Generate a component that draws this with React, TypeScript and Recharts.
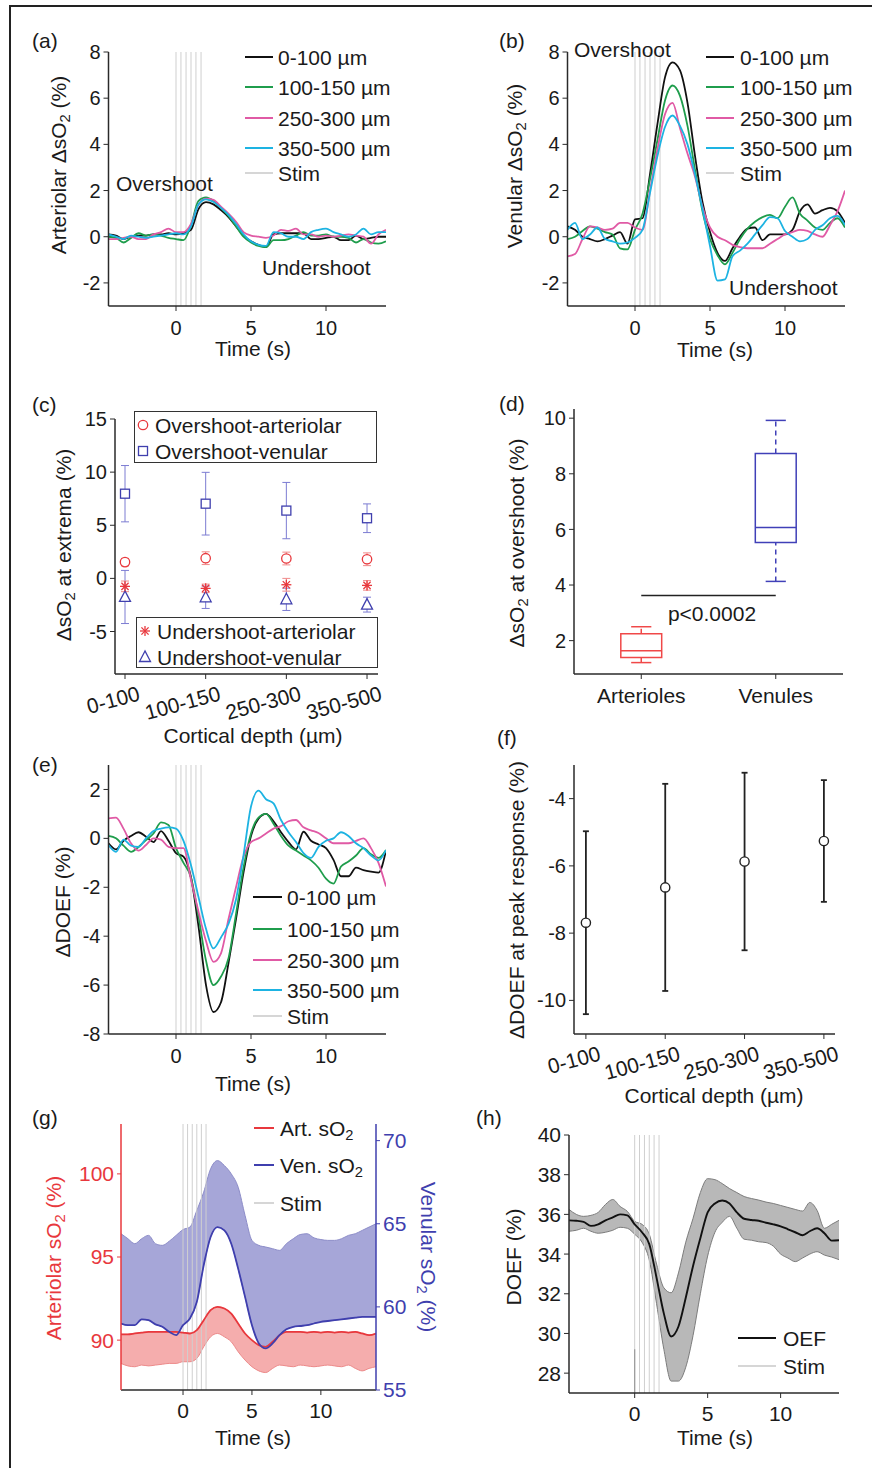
import React from 'react';
import {
  ComposedChart, Line, Area, XAxis, YAxis, ReferenceLine, ReferenceArea, Scatter, ErrorBar,
} from 'recharts';

// ---------------- DATA ----------------
const TIME = [-4.5, -4, -3.5, -3, -2.5, -2, -1.5, -1, -0.5, 0, 0.5, 1, 1.5, 2, 2.5, 3, 3.5, 4, 4.5, 5, 5.5, 6, 6.5, 7, 7.5, 8, 8.5, 9, 9.5, 10, 10.5, 11, 11.5, 12, 12.5, 13, 13.5, 14];
const STIM = [0, 0.33, 0.67, 1, 1.33, 1.67];
const TIME_TICKS = [0, 5, 10];
const DEPTH_NAMES = ['0-100 µm', '100-150 µm', '250-300 µm', '350-500 µm'];
const DEPTH_TICKS = ['0-100', '100-150', '250-300', '350-500'];
const DEPTH_POS = [1, 2, 3, 4];

// (a) arteriolar ΔsO2
const A_0_100 = [0.1, 0.05, -0.1, 0, 0.05, 0.05, 0.1, 0.1, 0.15, 0.1, 0.15, 0.3, 1.2, 1.5, 1.4, 1.15, 0.85, 0.45, 0.05, -0.2, -0.35, -0.45, 0.1, 0.15, 0.15, 0.15, 0.15, -0.1, -0.1, -0.05, 0, -0.15, -0.15, 0.05, -0.1, -0.05, 0, 0];
const A_100_150 = [0, -0.05, -0.25, -0.05, 0.15, 0.05, 0.1, 0.05, -0.05, -0.1, -0.15, 0.5, 1.55, 1.7, 1.55, 1.25, 0.9, 0.45, 0, -0.25, -0.4, -0.45, -0.15, -0.15, -0.1, 0.05, 0.2, 0.05, 0.05, 0.1, 0, 0, -0.05, -0.25, -0.1, -0.25, -0.3, -0.2];
const A_250_300 = [-0.1, -0.1, -0.05, 0, -0.1, -0.1, 0.1, 0.2, 0.35, 0.2, 0.2, 0.55, 1.4, 1.65, 1.6, 1.3, 1.0, 0.65, 0.2, 0.05, 0, -0.05, 0.05, 0.3, 0.25, 0.35, 0.1, 0.1, 0, 0.05, 0, 0.05, 0.1, 0.05, 0, -0.3, 0.1, 0.3];
const A_350_500 = [0.1, 0, -0.1, 0.05, 0, -0.05, 0, 0.05, 0.1, 0.15, 0.1, 0.45, 1.4, 1.62, 1.5, 1.25, 0.95, 0.55, 0.1, -0.2, -0.35, -0.4, 0.2, 0.15, 0, 0, -0.1, 0.2, 0.3, 0.35, 0.2, 0.1, 0, 0.1, 0.35, 0.1, 0.2, 0.2];

// (b) venular ΔsO2
const B_0_100 = [0.45, 0.3, 0, -0.1, -0.2, -0.1, 0.05, 0.2, -0.3, 0.75, 0.8, 2.7, 4.9, 6.9, 7.55, 7.2, 5.8, 3.5, 1.5, 0.2, -0.7, -1.05, -0.5, 0, 0.35, 0.4, -0.15, 0.1, 0.1, 0.1, 0.3, 1.1, 1.4, 1.0, 1.15, 1.25, 1.1, 0.6];
const B_100_150 = [-0.1, 0, 0.25, 0.45, 0.35, 0.2, 0.1, -0.5, -0.55, 0.3, 1.0, 2.5, 4.2, 5.9, 6.55, 6.1, 4.8, 2.9, 1.1, -0.1, -0.8, -1.2, -0.7, -0.1, 0.35, 0.65, 0.85, 0.95, 0.8, 1.3, 1.7, 1.0, 0.7, 0.4, 0.3, 0.6, 0.8, 0.4];
const B_250_300 = [-0.85, -0.75, -0.1, 0.45, 0.4, 0.3, 0.35, 0.6, 0.6, 0.4, 0.3, 2.0, 3.8, 5.3, 5.8, 4.7, 3.6, 2.6, 1.3, 0.4, 0, -0.15, -0.35, -0.45, -0.5, -0.5, -0.5, -0.3, -0.1, 0.1, 0.2, 0.3, 0.25, 0.1, 0, 0.5, 1.1, 2.0];
const B_350_500 = [0.3, 0.6, -0.1, 0.1, 0.4, -0.1, -0.2, -0.3, -0.25, -0.05, 0.3, 1.9, 3.5, 4.75, 5.25, 4.8, 4.0, 2.7, 1.2, -0.4, -1.9, -1.85, -0.85, -0.6, -0.3, 0.1, 0.5, 0.85, 0.8, 0.25, 0, -0.2, -0.1, 0.3, 0.5, 0.8, 0.9, 0.5];

// (c) ΔsO2 at extrema
const C_OVER_ART = [1.53, 1.9, 1.87, 1.8];
const C_OVER_ART_ERR = [0.35, 0.6, 0.6, 0.6];
const C_OVER_VEN = [7.97, 7.03, 6.38, 5.66];
const C_OVER_VEN_ERR = [2.65, 2.95, 2.65, 1.35];
const C_UNDER_ART = [-0.75, -0.94, -0.6, -0.66];
const C_UNDER_ART_ERR = [0.5, 0.4, 0.6, 0.45];
const C_UNDER_VEN = [-1.75, -1.78, -1.97, -2.47];
const C_UNDER_VEN_ERR = [2.5, 1.05, 1.05, 0.7];

// (d) box plot
const BOX_LABELS = ['Arterioles', 'Venules'];
const BOX_POS = [1, 2];
const BOX_MIN = [1.21, 4.13];
const BOX_Q1 = [1.39, 5.53];
const BOX_MED = [1.64, 6.07];
const BOX_Q3 = [2.25, 8.73];
const BOX_MAX = [2.5, 9.92];
const SIG_Y = 3.62;

// (e) ΔDOEF
const E_0_100 = [-0.2, -0.45, -0.1, 0.1, 0.25, 0.07, -0.15, 0.3, -0.1, -0.6, -0.75, -1.6, -3.6, -6.0, -7.1, -6.7, -5.1, -3.3, -1.4, 0.1, 0.8, 1.0, 0.7, 0.25, -0.15, -0.45, 0.27, -0.1, -0.25, -0.4, -0.88, -1.55, -1.55, -1.2, -1.3, -1.36, -1.4, -0.5];
const E_100_150 = [0.1, 0, -0.3, -0.55, -0.35, -0.07, 0.2, 0.65, 0.55, -0.4, -1.0, -1.6, -3.2, -5.0, -6.0, -5.65, -4.9, -3.1, -1.2, 0.2, 0.85, 1.0, 0.6, 0.1, -0.3, -0.5, -0.7, -0.9, -1.2, -1.65, -1.85, -1.15, -0.95, -0.7, -0.4, -0.65, -0.8, -0.48];
const E_250_300 = [0.82, 0.85, 0.4, -0.2, -0.5, -0.27, 0, -0.05, -0.35, -0.4, -0.4, -1.7, -3.0, -4.2, -5.05, -4.7, -3.3, -2.0, -0.75, -0.15, 0, 0.2, 0.4, 0.5, 0.7, 0.75, 0.45, 0.33, 0.22, 0, -0.2, -0.2, -0.2, -0.1, 0, -0.4, -1.0, -1.97];
const E_350_500 = [-0.27, -0.55, -0.05, -0.3, -0.35, 0, 0.3, 0.4, 0.45, 0.4, -0.1, -1.1, -2.4, -3.7, -4.5, -4.05, -3.5, -2.5, -0.7, 1.3, 1.95, 1.6, 1.43, 0.75, 0.25, -0.15, -0.6, -0.8, -0.35, -0.1, 0, 0.25, 0.1, -0.2, -0.4, -0.7, -0.9, -0.48];

// (f) ΔDOEF at peak response
const F_MEAN = [-7.69, -6.64, -5.87, -5.26];
const F_ERR = [2.72, 3.08, 2.64, 1.81];

// (g) absolute sO2
const G_ART = [90.35, 90.35, 90.4, 90.45, 90.5, 90.5, 90.5, 90.5, 90.5, 90.45, 90.4, 90.6, 91.2, 91.8, 92.0, 91.9, 91.6, 91.0, 90.4, 90.0, 89.7, 89.6, 89.9, 90.3, 90.5, 90.5, 90.5, 90.45, 90.5, 90.45, 90.5, 90.45, 90.5, 90.45, 90.5, 90.4, 90.3, 90.4];
const G_ART_LO = [88.6, 88.45, 88.4, 88.5, 88.45, 88.5, 88.55, 88.6, 88.6, 88.7, 88.7, 88.9, 89.6, 90.2, 90.4, 90.2, 89.9, 89.3, 88.8, 88.4, 88.15, 88.05, 88.3, 88.5, 88.45, 88.4, 88.5, 88.45, 88.4, 88.45, 88.5, 88.45, 88.4, 88.5, 88.3, 88.15, 88.3, 88.4];
const G_VEN = [59.0, 58.9, 58.9, 59.25, 59.2, 58.95, 58.8, 58.5, 58.3, 58.9, 59.3, 60.3, 62.5, 64.2, 64.8, 64.6, 63.8, 62.3, 60.6, 58.9, 57.8, 57.5, 57.8, 58.3, 58.65, 58.8, 58.85, 58.9, 59.0, 59.1, 59.15, 59.2, 59.25, 59.3, 59.35, 59.4, 59.4, 59.4];
const G_VEN_HI = [64.4, 64.1, 63.8, 64.1, 64.3, 63.8, 63.7, 63.95, 64.3, 64.65, 64.8, 65.8, 66.9, 68.3, 68.8, 68.5, 68.0, 67.2, 65.5, 64.0, 63.7, 63.6, 63.5, 63.4, 63.8, 64.1, 64.35, 64.4, 64.15, 64.05, 64.0, 64.0, 64.1, 64.3, 64.4, 64.6, 64.8, 65.0];

// (h) DOEF
const H_OEF = [35.7, 35.68, 35.62, 35.42, 35.5, 35.7, 35.85, 36.0, 35.95, 35.5, 35.1, 34.5, 32.8, 31.0, 29.85, 30.35, 31.8, 33.4, 34.8, 36.1, 36.55, 36.7, 36.55, 36.1, 35.78, 35.72, 35.68, 35.58, 35.5, 35.4, 35.25, 35.1, 34.95, 35.15, 35.3, 35.05, 34.68, 34.7];
const H_HI = [36.25, 36.0, 35.9, 35.95, 36.1, 36.5, 36.75, 36.4, 36.15, 35.65, 35.5, 35.0, 33.5, 32.3, 32.05, 33.05, 34.6, 35.8, 37.1, 37.8, 37.75, 37.55, 37.3, 37.1, 36.9, 36.8, 36.72, 36.62, 36.55, 36.45, 36.35, 36.25, 36.17, 36.6, 36.2, 35.3, 35.5, 35.7];
const H_LO = [35.15, 35.2, 35.3, 35.15, 35.05, 35.1, 35.2, 35.35, 35.3, 35.0, 34.6, 33.7, 31.5, 29.2, 27.6, 27.6, 28.3, 29.9, 32.0, 33.9, 35.1, 35.6, 35.9, 35.3, 34.75, 34.7, 34.62, 34.58, 34.4, 34.0, 33.8, 33.62, 33.8, 34.0, 34.12, 33.95, 33.85, 33.72];

// ---------------- STYLE ----------------
const FONT = '"Liberation Sans", Arial, Helvetica, sans-serif';
const INK = '#1a1a1a';
const SERIES_COLORS = ['#111111', '#1f9d4c', '#e05aa5', '#1db3e2'];
const STIM_COLOR = '#cfcfcf';
const RED = '#e8383d';
const BLUE = '#3f3fae';
const AX = { stroke: '#2a2a2a', strokeWidth: 1.5 };
const TL = { stroke: '#2a2a2a', strokeWidth: 1 };
const TICK = { fill: INK, fontSize: 20 };
const LW = 1.8;

type Geom = { wrap: React.CSSProperties; width: number; height: number; margin: any; yW: number; xH: number; rW: number };
function place(L: number, T: number, W: number, H: number, x0: number, y0: number, x1: number, y1: number, right = false): Geom {
  return {
    wrap: { position: 'absolute', left: L, top: T },
    width: W, height: H,
    margin: { top: y0 - T, right: right ? 0 : L + W - x1, bottom: 0, left: 0 },
    yW: x0 - L, xH: T + H - y1, rW: right ? L + W - x1 : 0,
  };
}

function rowsOf(series: number[][]) {
  return TIME.map((t, i) => {
    const r: any = { t };
    series.forEach((s, k) => { r['s' + k] = s[i]; });
    return r;
  });
}

// ---------------- TEXT OVERLAYS ----------------
type TP = { x: number; y: number; a?: 'start' | 'middle' | 'end'; s?: number; c?: string; r?: number; children: React.ReactNode };
function Tx({ x, y, a = 'start', s = 21, c = INK, r = 0, children }: TP) {
  const tx = a === 'start' ? '0%' : a === 'middle' ? '-50%' : '-100%';
  return (
    <div style={{ position: 'absolute', left: x, top: y, transform: `translate(${tx}, -50%)` + (r ? ` rotate(${r}deg)` : ''), fontSize: s, color: c, lineHeight: 1, whiteSpace: 'nowrap' }}>
      {children}
    </div>
  );
}
const Sub = ({ children }: { children: React.ReactNode }) => (
  <span style={{ fontSize: '0.7em', position: 'relative', top: '0.3em' }}>{children}</span>
);

type LegItem = { label: React.ReactNode; color: string; thin?: boolean };
function LineLegend({ x, w, tx, ys, items }: { x: number; w: number; tx: number; ys: number[]; items: LegItem[] }) {
  return (
    <>
      {items.map((it, i) => (
        <React.Fragment key={i}>
          <div style={{ position: 'absolute', left: x, top: ys[i] - (it.thin ? 0.75 : 1), width: w, height: it.thin ? 1.5 : 2, background: it.color }} />
          <Tx x={tx} y={ys[i]}>{it.label}</Tx>
        </React.Fragment>
      ))}
    </>
  );
}

// ---------------- MARKERS ----------------
const CircleRed = (p: any) => <circle cx={p.cx} cy={p.cy} r={4.7} fill="#fff" stroke={RED} strokeWidth={1.3} />;
const SquareBlue = (p: any) => <rect x={p.cx - 4.5} y={p.cy - 4.5} width={9} height={9} fill="#fff" stroke={BLUE} strokeWidth={1.3} />;
const TriBlue = (p: any) => (
  <polygon points={`${p.cx},${p.cy - 6} ${p.cx - 5.5},${p.cy + 4.5} ${p.cx + 5.5},${p.cy + 4.5}`} fill="#fff" stroke={BLUE} strokeWidth={1.3} />
);
const StarRed = (p: any) => (
  <g stroke={RED} strokeWidth={1.3}>
    <line x1={p.cx - 5} y1={p.cy} x2={p.cx + 5} y2={p.cy} />
    <line x1={p.cx} y1={p.cy - 5} x2={p.cx} y2={p.cy + 5} />
    <line x1={p.cx - 3.6} y1={p.cy - 3.6} x2={p.cx + 3.6} y2={p.cy + 3.6} />
    <line x1={p.cx - 3.6} y1={p.cy + 3.6} x2={p.cx + 3.6} y2={p.cy - 3.6} />
  </g>
);
const CircleBlack = (p: any) => <circle cx={p.cx} cy={p.cy} r={4.6} fill="#fff" stroke="#222" strokeWidth={1.4} />;
const NoShape = () => <g />;

const DepthTick = (p: any) => {
  const i = Math.round(p.payload.value) - 1;
  const ax = p.x + 16;
  const ay = p.y + 21;
  return (
    <text x={ax} y={ay} textAnchor="end" fontSize={21} fill={INK} transform={`rotate(-15, ${ax}, ${ay})`}>
      {DEPTH_TICKS[i]}
    </text>
  );
};

// ---------------- PANELS ----------------
function TSPanel({ g, series, yDomain, yTicks }: { g: Geom; series: number[][]; yDomain: [number, number]; yTicks: number[] }) {
  const rows = rowsOf(series);
  return (
    <div style={g.wrap}>
      <ComposedChart width={g.width} height={g.height} data={rows} margin={g.margin}>
        <XAxis type="number" dataKey="t" domain={[-4.5, 14]} ticks={TIME_TICKS} interval={0} allowDataOverflow height={g.xH}
          axisLine={AX} tickLine={TL} tick={TICK} tickSize={5} tickMargin={10} />
        <YAxis type="number" domain={yDomain} ticks={yTicks} interval={0} allowDataOverflow width={g.yW}
          axisLine={AX} tickLine={TL} tick={TICK} tickSize={5} tickMargin={3} />
        {STIM.map((s) => <ReferenceLine key={s} x={s} stroke={STIM_COLOR} strokeWidth={1} />)}
        {series.map((_, k) => (
          <Line key={k} type="monotone" dataKey={'s' + k} stroke={SERIES_COLORS[k]} strokeWidth={LW} dot={false} activeDot={false} isAnimationActive={false} />
        ))}
      </ComposedChart>
    </div>
  );
}

function PanelC() {
  const g = place(60, 405, 330, 320, 115, 419, 378, 674);
  const mk = (v: number[], e: number[]) => DEPTH_POS.map((x, i) => ({ x, y: v[i], e: e[i] }));
  return (
    <div style={g.wrap}>
      <ComposedChart width={g.width} height={g.height} margin={g.margin}>
        <XAxis type="number" dataKey="x" domain={[0.876, 4.136]} ticks={DEPTH_POS} interval={0} allowDataOverflow height={g.xH}
          axisLine={AX} tickLine={TL} tick={DepthTick} tickSize={5} tickMargin={0} />
        <YAxis type="number" dataKey="y" domain={[-9, 15]} ticks={[-5, 0, 5, 10, 15]} interval={0} allowDataOverflow width={g.yW}
          axisLine={AX} tickLine={TL} tick={TICK} tickSize={5} tickMargin={3} />
        <Scatter data={mk(C_OVER_VEN, C_OVER_VEN_ERR)} shape={SquareBlue} isAnimationActive={false}>
          <ErrorBar dataKey="e" direction="y" width={4} stroke="#7c7cd2" strokeWidth={1} isAnimationActive={false} />
        </Scatter>
        <Scatter data={mk(C_UNDER_VEN, C_UNDER_VEN_ERR)} shape={TriBlue} isAnimationActive={false}>
          <ErrorBar dataKey="e" direction="y" width={4} stroke="#7c7cd2" strokeWidth={1} isAnimationActive={false} />
        </Scatter>
        <Scatter data={mk(C_OVER_ART, C_OVER_ART_ERR)} shape={CircleRed} isAnimationActive={false}>
          <ErrorBar dataKey="e" direction="y" width={4} stroke="#f08a8a" strokeWidth={1} isAnimationActive={false} />
        </Scatter>
        <Scatter data={mk(C_UNDER_ART, C_UNDER_ART_ERR)} shape={StarRed} isAnimationActive={false}>
          <ErrorBar dataKey="e" direction="y" width={4} stroke="#f08a8a" strokeWidth={1} isAnimationActive={false} />
        </Scatter>
      </ComposedChart>
    </div>
  );
}

function PanelD() {
  const g = place(520, 400, 340, 320, 574, 409, 843, 674);
  const rows = BOX_POS.map((x, i) => ({ x, y: BOX_MED[i] }));
  const colors = ['#f04848', '#4040b8'];
  const BW = 0.152;
  const CW = 0.075;
  return (
    <div style={g.wrap}>
      <ComposedChart width={g.width} height={g.height} margin={g.margin}>
        <XAxis type="number" dataKey="x" domain={[0.5, 2.5]} ticks={BOX_POS} interval={0} allowDataOverflow height={g.xH}
          tickFormatter={(v: number) => BOX_LABELS[Math.round(v) - 1]}
          axisLine={AX} tickLine={TL} tick={{ ...TICK, fontSize: 21 }} tickSize={5} tickMargin={9} />
        <YAxis type="number" dataKey="y" domain={[0.8, 10.33]} ticks={[2, 4, 6, 8, 10]} interval={0} allowDataOverflow width={g.yW}
          axisLine={AX} tickLine={TL} tick={TICK} tickSize={5} tickMargin={3} />
        <Scatter data={rows} shape={NoShape} isAnimationActive={false} />
        {BOX_POS.map((p, i) => (
          <React.Fragment key={i}>
            <ReferenceLine segment={[{ x: p, y: BOX_Q3[i] }, { x: p, y: BOX_MAX[i] }]} stroke={colors[i]} strokeWidth={1.5} strokeDasharray="5 4" />
            <ReferenceLine segment={[{ x: p, y: BOX_MIN[i] }, { x: p, y: BOX_Q1[i] }]} stroke={colors[i]} strokeWidth={1.5} strokeDasharray="5 4" />
            <ReferenceLine segment={[{ x: p - CW, y: BOX_MAX[i] }, { x: p + CW, y: BOX_MAX[i] }]} stroke={colors[i]} strokeWidth={1.5} />
            <ReferenceLine segment={[{ x: p - CW, y: BOX_MIN[i] }, { x: p + CW, y: BOX_MIN[i] }]} stroke={colors[i]} strokeWidth={1.5} />
            <ReferenceArea x1={p - BW} x2={p + BW} y1={BOX_Q1[i]} y2={BOX_Q3[i]} fill="#ffffff" fillOpacity={0} stroke={colors[i]} strokeWidth={1.5} strokeOpacity={1} />
            <ReferenceLine segment={[{ x: p - BW, y: BOX_MED[i] }, { x: p + BW, y: BOX_MED[i] }]} stroke={colors[i]} strokeWidth={1.5} />
          </React.Fragment>
        ))}
        <ReferenceLine segment={[{ x: BOX_POS[0], y: SIG_Y }, { x: BOX_POS[1], y: SIG_Y }]} stroke="#222" strokeWidth={1.5} />
      </ComposedChart>
    </div>
  );
}

function PanelF() {
  const g = place(520, 755, 340, 330, 574, 765, 835, 1034);
  const rows = DEPTH_POS.map((x, i) => ({ x, y: F_MEAN[i], e: F_ERR[i] }));
  return (
    <div style={g.wrap}>
      <ComposedChart width={g.width} height={g.height} margin={g.margin}>
        <XAxis type="number" dataKey="x" domain={[0.85, 4.14]} ticks={DEPTH_POS} interval={0} allowDataOverflow height={g.xH}
          axisLine={AX} tickLine={TL} tick={DepthTick} tickSize={5} tickMargin={0} />
        <YAxis type="number" dataKey="y" domain={[-11, -3]} ticks={[-10, -8, -6, -4]} interval={0} allowDataOverflow width={g.yW}
          axisLine={AX} tickLine={TL} tick={TICK} tickSize={5} tickMargin={3} />
        <Scatter data={rows} shape={CircleBlack} isAnimationActive={false}>
          <ErrorBar dataKey="e" direction="y" width={3} stroke="#222" strokeWidth={1.8} isAnimationActive={false} />
        </Scatter>
      </ComposedChart>
    </div>
  );
}

function PanelG() {
  const g = place(58, 1110, 362, 325, 121, 1124, 376, 1390, true);
  const rows = TIME.map((t, i) => ({ t, art: G_ART[i], artBand: [G_ART_LO[i], G_ART[i]], ven: G_VEN[i], venBand: [G_VEN[i], G_VEN_HI[i]] }));
  return (
    <div style={g.wrap}>
      <ComposedChart width={g.width} height={g.height} data={rows} margin={g.margin}>
        <XAxis type="number" dataKey="t" domain={[-4.5, 14]} ticks={TIME_TICKS} interval={0} allowDataOverflow height={g.xH}
          axisLine={AX} tickLine={TL} tick={{ ...TICK, fontSize: 21 }} tickSize={5} tickMargin={8} />
        <YAxis yAxisId="l" type="number" domain={[87, 103]} ticks={[90, 95, 100]} interval={0} allowDataOverflow width={g.yW}
          axisLine={{ stroke: RED, strokeWidth: 1.5 }} tickLine={{ stroke: RED }} tick={{ fill: RED, fontSize: 21 }} tickSize={4} tickMargin={3} />
        <YAxis yAxisId="r" orientation="right" type="number" domain={[55, 71]} ticks={[55, 60, 65, 70]} interval={0} allowDataOverflow width={g.rW}
          axisLine={{ stroke: BLUE, strokeWidth: 1.5 }} tickLine={{ stroke: BLUE }} tick={{ fill: BLUE, fontSize: 21 }} tickSize={4} tickMargin={3} />
        {STIM.map((s) => <ReferenceLine key={s} yAxisId="l" x={s} stroke={STIM_COLOR} strokeWidth={1} />)}
        <Area yAxisId="r" type="monotone" dataKey="venBand" fill="#a6a6d8" fillOpacity={1} stroke="#8c8cc8" strokeWidth={1} isAnimationActive={false} activeDot={false} />
        <Area yAxisId="l" type="monotone" dataKey="artBand" fill="#f5adad" fillOpacity={1} stroke="#ec8a8a" strokeWidth={1} isAnimationActive={false} activeDot={false} />
        <Line yAxisId="l" type="monotone" dataKey="art" stroke={RED} strokeWidth={LW} dot={false} activeDot={false} isAnimationActive={false} />
        <Line yAxisId="r" type="monotone" dataKey="ven" stroke={BLUE} strokeWidth={LW} dot={false} activeDot={false} isAnimationActive={false} />
      </ComposedChart>
    </div>
  );
}

function PanelH() {
  const g = place(518, 1112, 340, 323, 569, 1135, 839, 1393);
  const rows = TIME.map((t, i) => ({ t, oef: H_OEF[i], band: [H_LO[i], H_HI[i]] }));
  return (
    <div style={g.wrap}>
      <ComposedChart width={g.width} height={g.height} data={rows} margin={g.margin}>
        <XAxis type="number" dataKey="t" domain={[-4.5, 14]} ticks={TIME_TICKS} interval={0} allowDataOverflow height={g.xH}
          axisLine={AX} tickLine={TL} tick={{ ...TICK, fontSize: 21 }} tickSize={5} tickMargin={8} />
        <YAxis type="number" domain={[27, 40]} ticks={[28, 30, 32, 34, 36, 38, 40]} interval={0} allowDataOverflow width={g.yW}
          axisLine={AX} tickLine={TL} tick={{ ...TICK, fontSize: 21 }} tickSize={5} tickMargin={3} />
        {STIM.map((s) => <ReferenceLine key={s} x={s} stroke={STIM_COLOR} strokeWidth={1} />)}
        <Area type="monotone" dataKey="band" fill="#b8b8b8" fillOpacity={1} stroke="#7c7c7c" strokeWidth={1} isAnimationActive={false} activeDot={false} />
        <ReferenceLine segment={[{ x: 0, y: 27 }, { x: 0, y: 29.2 }]} stroke="#9a9a9a" strokeWidth={1.2} />
        <Line type="monotone" dataKey="oef" stroke="#111" strokeWidth={1.9} dot={false} activeDot={false} isAnimationActive={false} />
      </ComposedChart>
    </div>
  );
}

const depthLegend: LegItem[] = [
  ...DEPTH_NAMES.map((n, i) => ({ label: n, color: SERIES_COLORS[i] })),
  { label: 'Stim', color: '#d6d6d6', thin: true },
];

function MarkerSvg({ kind }: { kind: string }) {
  const p = { cx: 7, cy: 7 };
  return (
    <svg width={14} height={14} style={{ position: 'absolute', left: -7, top: -7, overflow: 'visible' }}>
      {kind === 'c' && <CircleRed {...p} />}
      {kind === 's' && <SquareBlue {...p} />}
      {kind === 'a' && <StarRed {...p} />}
      {kind === 't' && <TriBlue {...p} />}
    </svg>
  );
}
function BoxLegend({ left, top, w, h, items }: { left: number; top: number; w: number; h: number; items: { kind: string; label: string; y: number }[] }) {
  return (
    <>
      <div style={{ position: 'absolute', left, top, width: w, height: h, border: '1.5px solid #333', background: '#fff', boxSizing: 'border-box' }} />
      {items.map((it, i) => (
        <React.Fragment key={i}>
          <div style={{ position: 'absolute', left: left + 9, top: it.y, width: 0, height: 0 }}><MarkerSvg kind={it.kind} /></div>
          <Tx x={left + 21} y={it.y}>{it.label}</Tx>
        </React.Fragment>
      ))}
    </>
  );
}

export default function App() {
  return (
    <div style={{ position: 'absolute', left: 0, top: 0, width: 872, height: 1468, background: '#fff', fontFamily: FONT, color: INK, overflow: 'hidden' }}>
      {/* frame */}
      <div style={{ position: 'absolute', left: 9, top: 5, width: 863, height: 2, background: '#222' }} />
      <div style={{ position: 'absolute', left: 9, top: 5, width: 2, height: 1463, background: '#222' }} />

      {/* (a) */}
      <TSPanel g={place(58, 40, 340, 312, 108.5, 52, 386, 306)} series={[A_0_100, A_100_150, A_250_300, A_350_500]} yDomain={[-3, 8]} yTicks={[-2, 0, 2, 4, 6, 8]} />
      <Tx x={32} y={40}>(a)</Tx>
      <Tx x={58} y={165} a="middle" r={-90}>Arteriolar ΔsO<Sub>2</Sub> (%)</Tx>
      <Tx x={253} y={348} a="middle">Time (s)</Tx>
      <Tx x={116} y={183}>Overshoot</Tx>
      <Tx x={262} y={267}>Undershoot</Tx>
      <LineLegend x={245} w={28} tx={278} ys={[57, 87, 118, 148, 173]} items={depthLegend} />

      {/* (b) */}
      <TSPanel g={place(518, 40, 340, 312, 567.5, 52, 845, 306)} series={[B_0_100, B_100_150, B_250_300, B_350_500]} yDomain={[-3, 8]} yTicks={[-2, 0, 2, 4, 6, 8]} />
      <Tx x={499} y={40}>(b)</Tx>
      <Tx x={514} y={166} a="middle" r={-90}>Venular ΔsO<Sub>2</Sub> (%)</Tx>
      <Tx x={715} y={349} a="middle">Time (s)</Tx>
      <Tx x={574} y={49}>Overshoot</Tx>
      <Tx x={729} y={287}>Undershoot</Tx>
      <LineLegend x={706} w={28} tx={740} ys={[57, 87, 118, 148, 173]} items={depthLegend} />

      {/* (c) */}
      <PanelC />
      <Tx x={32} y={404}>(c)</Tx>
      <Tx x={63} y={545} a="middle" r={-90}>ΔsO<Sub>2</Sub> at extrema (%)</Tx>
      <Tx x={253} y={735} a="middle">Cortical depth (µm)</Tx>
      <BoxLegend left={134} top={411} w={243} h={52} items={[{ kind: 'c', label: 'Overshoot-arteriolar', y: 425 }, { kind: 's', label: 'Overshoot-venular', y: 451 }]} />
      <BoxLegend left={136} top={617} w={242} h={51} items={[{ kind: 'a', label: 'Undershoot-arteriolar', y: 631 }, { kind: 't', label: 'Undershoot-venular', y: 657 }]} />

      {/* (d) */}
      <PanelD />
      <Tx x={499} y={403}>(d)</Tx>
      <Tx x={516} y={543} a="middle" r={-90}>ΔsO<Sub>2</Sub> at overshoot (%)</Tx>
      <Tx x={712} y={613} a="middle">p&lt;0.0002</Tx>

      {/* (e) */}
      <TSPanel g={place(58, 755, 340, 320, 108.5, 765, 386, 1034)} series={[E_0_100, E_100_150, E_250_300, E_350_500]} yDomain={[-8, 3]} yTicks={[-8, -6, -4, -2, 0, 2]} />
      <Tx x={32} y={764}>(e)</Tx>
      <Tx x={62} y={902} a="middle" r={-90}>ΔDOEF (%)</Tx>
      <Tx x={253} y={1083} a="middle">Time (s)</Tx>
      <LineLegend x={253} w={29} tx={287} ys={[897, 929, 960, 990, 1016]} items={depthLegend} />

      {/* (f) */}
      <PanelF />
      <Tx x={497} y={737}>(f)</Tx>
      <Tx x={516} y={900} a="middle" r={-90}>ΔDOEF at peak response (%)</Tx>
      <Tx x={714} y={1095} a="middle">Cortical depth (µm)</Tx>

      {/* (g) */}
      <PanelG />
      <Tx x={32} y={1117}>(g)</Tx>
      <Tx x={53} y={1258} a="middle" r={-90} c={RED}>Arteriolar sO<Sub>2</Sub> (%)</Tx>
      <Tx x={428} y={1257} a="middle" r={90} c={BLUE}>Venular sO<Sub>2</Sub> (%)</Tx>
      <Tx x={253} y={1437} a="middle">Time (s)</Tx>
      <LineLegend x={254} w={20} tx={280} ys={[1128, 1165, 1203]} items={[
        { label: <>Art. sO<Sub>2</Sub></>, color: RED },
        { label: <>Ven. sO<Sub>2</Sub></>, color: BLUE },
        { label: 'Stim', color: '#d6d6d6', thin: true },
      ]} />

      {/* (h) */}
      <PanelH />
      <Tx x={476} y={1117}>(h)</Tx>
      <Tx x={513} y={1257} a="middle" r={-90}>DOEF (%)</Tx>
      <Tx x={715} y={1437} a="middle">Time (s)</Tx>
      <LineLegend x={738} w={38} tx={783} ys={[1338, 1366]} items={[
        { label: 'OEF', color: '#111' },
        { label: 'Stim', color: '#d6d6d6', thin: true },
      ]} />
    </div>
  );
}
